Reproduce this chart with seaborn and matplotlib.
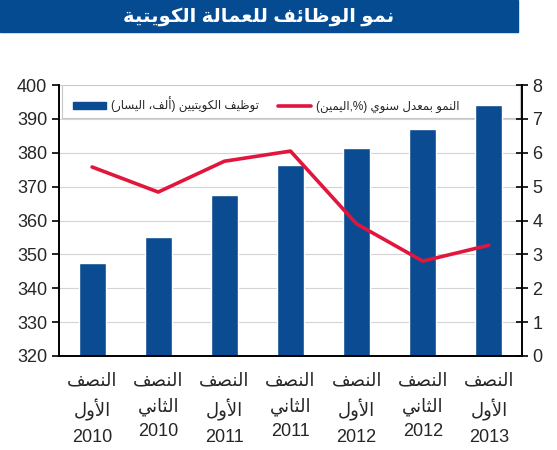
import numpy as np
import pandas as pd
import matplotlib
matplotlib.use("Agg")
import matplotlib.pyplot as plt
import seaborn as sns

# ---------- data ----------
half_labels = ["النصف\nالأول", "النصف\nالثاني", "النصف\nالأول", "النصف\nالثاني",
               "النصف\nالأول", "النصف\nالثاني", "النصف\nالأول"]
years = ["2010", "2010", "2011", "2011", "2012", "2012", "2013"]
employment = [347.5, 355.0, 367.5, 376.5, 381.5, 387.0, 394.0]   # left axis, thousand
growth = [5.58, 4.84, 5.75, 6.05, 3.9, 2.8, 3.27]                # right axis, %

title_txt = "نمو الوظائف للعمالة الكويتية"
bar_name = "توظيف الكويتيين (ألف، اليسار)"
line_name = "النمو بمعدل سنوي (%,اليمين)"

# ---------- tiny arabic shaper (no reshaper lib available) ----------
FORMS = {
    'ا': ('\uFE8D', '\uFE8E', None, None),
    'أ': ('\uFE83', '\uFE84', None, None),
    'ب': ('\uFE8F', '\uFE90', '\uFE91', '\uFE92'),
    'ت': ('\uFE95', '\uFE96', '\uFE97', '\uFE98'),
    'ث': ('\uFE99', '\uFE9A', '\uFE9B', '\uFE9C'),
    'د': ('\uFEA9', '\uFEAA', None, None),
    'س': ('\uFEB1', '\uFEB2', '\uFEB3', '\uFEB4'),
    'ص': ('\uFEB9', '\uFEBA', '\uFEBB', '\uFEBC'),
    'ظ': ('\uFEC5', '\uFEC6', '\uFEC7', '\uFEC8'),
    'ع': ('\uFEC9', '\uFECA', '\uFECB', '\uFECC'),
    'ف': ('\uFED1', '\uFED2', '\uFED3', '\uFED4'),
    'ك': ('\uFED9', '\uFEDA', '\uFEDB', '\uFEDC'),
    'ل': ('\uFEDD', '\uFEDE', '\uFEDF', '\uFEE0'),
    'م': ('\uFEE1', '\uFEE2', '\uFEE3', '\uFEE4'),
    'ن': ('\uFEE5', '\uFEE6', '\uFEE7', '\uFEE8'),
    'و': ('\uFEED', '\uFEEE', None, None),
    'ي': ('\uFEF1', '\uFEF2', '\uFEF3', '\uFEF4'),
    'ة': ('\uFE93', '\uFE94', None, None),
    'ئ': ('\uFE89', '\uFE8A', '\uFE8B', '\uFE8C'),
}
LAMALEF = {'ا': ('\uFEFB', '\uFEFC'), 'أ': ('\uFEF7', '\uFEF8')}
MIRROR = {'(': ')', ')': '('}


def shape_line(s):
    out = []
    i, n = 0, len(s)
    while i < n:
        c = s[i]
        if c not in FORMS:
            out.append(c)
            i += 1
            continue
        prev = s[i - 1] if i > 0 else None
        prev_joins = prev in FORMS and FORMS[prev][2] is not None
        if c == 'ل' and i + 1 < n and s[i + 1] in LAMALEF:
            lig = LAMALEF[s[i + 1]]
            out.append(lig[1] if prev_joins else lig[0])
            i += 2
            continue
        nxt = s[i + 1] if i + 1 < n else None
        iso, fin, ini, med = FORMS[c]
        next_joins = ini is not None and nxt in FORMS
        if prev_joins and next_joins:
            out.append(med)
        elif prev_joins:
            out.append(fin)
        elif next_joins:
            out.append(ini)
        else:
            out.append(iso)
        i += 1
    return ''.join(MIRROR.get(ch, ch) for ch in reversed(out))


def ar(s):
    return '\n'.join(shape_line(line) for line in s.split('\n'))


# ---------- style ----------
sns.set_style("white")
plt.rcParams['font.family'] = ['Liberation Sans', 'DejaVu Sans']

bar_color = '#0b4b92'
line_color = '#e2153d'

fig = plt.figure(figsize=(5.57, 4.5), dpi=100)
ax = fig.add_axes([0.106, 0.209, 0.831, 0.602])

df = pd.DataFrame({"pos": range(len(years)), "emp": employment, "growth": growth})
sns.barplot(data=df, x="pos", y="emp", color=bar_color, width=0.41,
            saturation=1, ax=ax, zorder=2)
ax.set_ylim(320, 400)
ax.set_yticks(np.arange(320, 401, 10))
ax.yaxis.grid(True, color='#d4d4d4', linewidth=0.8)
ax.set_axisbelow(True)
ax.set_xlabel("")
ax.set_ylabel("")
ax.set_xlim(-0.5, len(years) - 0.5)

xt = [ar(h) + "\n" + y for h, y in zip(half_labels, years)]
ax.set_xticks(range(len(years)))
ax.set_xticklabels(xt, fontsize=13, linespacing=1.55)
ax.tick_params(axis='x', which='major', length=0, pad=12)
ax.set_xticks(np.arange(-0.5, len(years), 1), minor=True)
ax.tick_params(axis='x', which='minor', length=5, width=1.2, direction='out', color='black')
ax.tick_params(axis='y', labelsize=13, length=5, width=1.2, direction='out', color='black')

ax2 = ax.twinx()
sns.lineplot(data=df, x="pos", y="growth", color=line_color, linewidth=2.6,
             sort=False, ax=ax2)
ax2.set_ylim(0, 8)
ax2.set_yticks(range(0, 9))
ax2.set_ylabel("")
ax2.tick_params(axis='y', labelsize=13, length=8, width=1.2, direction='inout', color='black')

for a in (ax, ax2):
    for side in ('left', 'right', 'bottom'):
        a.spines[side].set_color('black')
        a.spines[side].set_linewidth(1.2)
    a.spines['top'].set_visible(False)

# legend frame spans the full plot width, drawn under the bars
ax.add_patch(plt.Rectangle((0.006, 0.878), 0.99, 0.122, transform=ax.transAxes,
                           facecolor='white', edgecolor='#c8c8c8', linewidth=0.8,
                           zorder=1.5))
h_bar = plt.Rectangle((0, 0), 1, 1, color=bar_color)
h_line = plt.Line2D([0], [0], color=line_color, linewidth=2.6)
leg = ax.legend([h_bar, h_line], [ar(bar_name), ar(line_name)], ncol=2,
                loc='upper left', bbox_to_anchor=(0.008, 0.995), fontsize=8.5,
                frameon=False, handlelength=2.8, handleheight=0.5,
                handletextpad=0.4, columnspacing=1.6)
leg.set_zorder(1.6)

# title band
fig.patches.append(plt.Rectangle((0, 0.928), 0.93, 0.072, transform=fig.transFigure,
                                 color='#044b91', zorder=0))
fig.text(0.465, 0.962, ar(title_txt), color='white', fontsize=14, fontweight='bold',
         ha='center', va='center')

fig.savefig("out.png", dpi=100)
